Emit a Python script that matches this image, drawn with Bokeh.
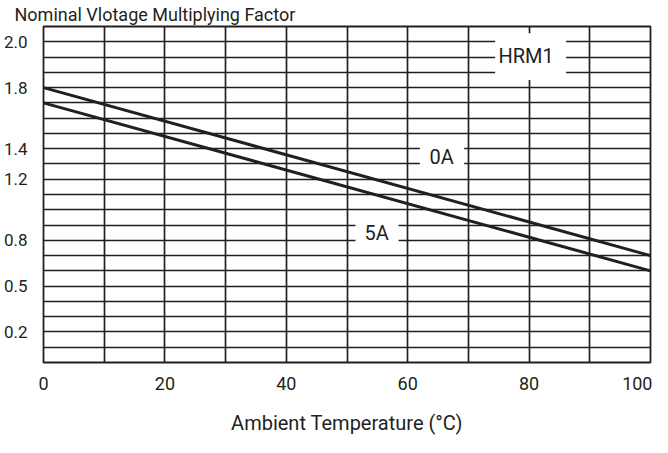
from bokeh.plotting import figure
from bokeh.models import Range1d, FixedTicker, Title, ColumnDataSource
from bokeh.core.properties import value
from bokeh.embed import file_html
from bokeh.resources import INLINE

# ---- data ----
temperature = [0, 100]                     # Ambient temperature (°C)
curve_0A = [18, 7]                         # position on the factor grid
curve_5A = [17, 6]
x_ticks = [0, 20, 40, 60, 80, 100]
y_tick_labels = ["2.0", "1.8", "1.4", "1.2", "0.8", "0.5", "0.2"]
y_tick_pos = [21, 18, 14, 12, 8, 5, 2]
curve_names = ["0A", "5A", "HRM1"]

FONT = "Roboto"
INK = "#231f20"

p = figure(width=652, height=437, output_backend="svg", toolbar_location=None,
           x_range=Range1d(0, 100), y_range=Range1d(0, 22),
           min_border_left=35, min_border_right=2, min_border_top=25, min_border_bottom=72)
p.background_fill_color = "white"
p.border_fill_color = "white"
p.outline_line_color = INK
p.outline_line_width = 1.8

# grid
p.xgrid.ticker = FixedTicker(ticks=list(range(0, 101, 10)))
p.ygrid.ticker = FixedTicker(ticks=list(range(0, 23)))
for g in (p.xgrid, p.ygrid):
    g.grid_line_color = INK
    g.grid_line_width = 1.7
    g.grid_line_alpha = 1.0

# x axis
xa = p.xaxis[0]
xa.ticker = FixedTicker(ticks=x_ticks)
xa.axis_line_color = None
xa.major_tick_line_color = None
xa.minor_tick_line_color = None
xa.major_label_text_font = FONT
xa.major_label_text_font_size = "18px"
xa.major_label_text_color = INK
xa.major_label_standoff = 8
xa.axis_label = "Ambient Temperature (°C)"
xa.axis_label_text_font = FONT
xa.axis_label_text_font_size = "20px"
xa.axis_label_text_font_style = "normal"
xa.axis_label_text_color = INK
xa.axis_label_standoff = 18

# y axis
ya = p.yaxis[0]
ya.ticker = FixedTicker(ticks=y_tick_pos)
ya.major_label_overrides = {pos: lab for pos, lab in zip(y_tick_pos, y_tick_labels)}
ya.axis_line_color = None
ya.major_tick_line_color = None
ya.minor_tick_line_color = None
ya.major_label_text_font = FONT
ya.major_label_text_font_size = "17px"
ya.major_label_text_color = INK
ya.major_label_standoff = 10

# title
t = Title(text="Nominal Vlotage Multiplying Factor", align="left",
          text_font=FONT, text_font_size="18px", text_font_style="normal",
          text_color=INK, offset=-29, standoff=3)
p.title = t

# white boxes behind curve labels (layout)
box_left = [62.0, 51.4, 74.4]
box_right = [69.3, 58.5, 86.1]
box_bottom = [12.55, 7.55, 18.5]
box_top = [14.45, 9.45, 21.55]
p.quad(left=box_left, right=box_right, bottom=box_bottom, top=box_top,
       fill_color="white", line_color=None)

# curves
p.line(temperature, curve_0A, line_color=INK, line_width=3)
p.line(temperature, curve_5A, line_color=INK, line_width=3)

# curve labels
lab_src = ColumnDataSource(dict(x=[65.6, 54.9, 79.5], y=[13.45, 8.5, 20.1], text=curve_names))
p.text(x="x", y="y", text="text", source=lab_src, text_font=value(FONT),
       text_font_size="20px", text_align="center", text_baseline="middle", text_color=INK)

open("out.html", "w").write(file_html(p, INLINE))
